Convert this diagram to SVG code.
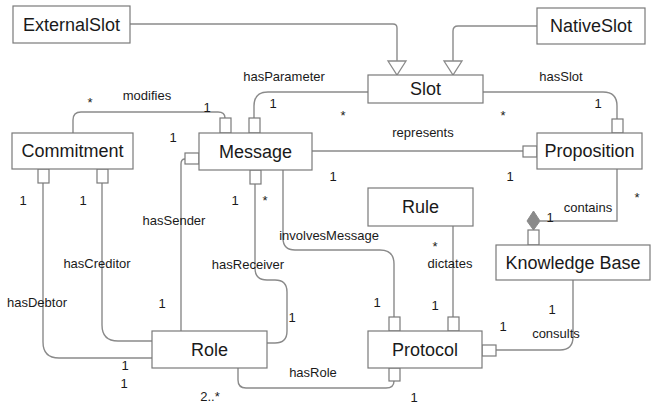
<svg xmlns="http://www.w3.org/2000/svg" width="663" height="405" viewBox="0 0 663 405">
  <style>
    .box { fill: #fff; stroke: #7a7a7a; stroke-width: 1.2; }
    .port { fill: #fff; stroke: #7a7a7a; stroke-width: 1.2; }
    .name { font-family: "Liberation Sans", Arial, sans-serif; font-size: 18px; fill: #1a1a1a; text-anchor: middle; }
    .lbl { font-family: "Liberation Sans", Arial, sans-serif; font-size: 13px; fill: #1a1a1a; text-anchor: middle; }
    .edge { fill: none; stroke: #8a8a8a; stroke-width: 1.4; }
    .gen { fill: #fff; stroke: #8a8a8a; stroke-width: 1.3; }
    .agg { fill: #8a8a8a; stroke: #8a8a8a; stroke-width: 1; }
  </style>

  <!-- connectors -->
  <g id="connectors">
    <!-- generalisations into Slot -->
    <path class="edge" d="M130,24 H393 Q397,24 397,28 V61"/>
    <polygon class="gen" points="388,61 406,61 397,75"/>
    <path class="edge" d="M537,26 H458 Q453,26 453,31 V61"/>
    <polygon class="gen" points="444,61 462,61 453,75"/>

    <!-- hasParameter -->
    <path class="edge" d="M368,92 H268 Q254,92 254,106 V118"/>
    <!-- modifies -->
    <path class="edge" d="M73,133 V120 Q73,112 81,112 H218 Q225,112 225,118"/>
    <!-- hasSlot -->
    <path class="edge" d="M483,92 H603 Q617,92 617,106 V119"/>
    <!-- represents -->
    <path class="edge" d="M312,151 H523"/>
    <!-- contains -->
    <path class="edge" d="M617,169 V221 H540"/>
    <polygon class="agg" points="533.5,211 540,221 533.5,230 527,221"/>
    <!-- consults -->
    <path class="edge" d="M573,280 V337 Q573,350 560,350 H496"/>
    <!-- dictates -->
    <path class="edge" d="M453,226 V317"/>
    <!-- involvesMessage -->
    <path class="edge" d="M283,170 V238 Q283,250 295,250 H380 Q394,250 394,264 V317"/>
    <!-- hasRole -->
    <path class="edge" d="M238,368 V380 Q238,388 246,388 H386 Q394,388 394,381"/>
    <!-- hasSender -->
    <path class="edge" d="M185,159 Q181,159 181,164 V331"/>
    <!-- hasReceiver -->
    <path class="edge" d="M255,184 V268 Q255,280 267,280 H275 Q287,280 287,292 V331 Q287,343 275,343 H267"/>
    <!-- hasCreditor -->
    <path class="edge" d="M102,183 V325 Q102,341 118,341 H152"/>
    <!-- hasDebtor -->
    <path class="edge" d="M43,183 V342 Q43,358 59,358 H152"/>

    <!-- association ports -->
    <rect class="port" x="220" y="118" width="11" height="15"/>
    <rect class="port" x="249" y="118" width="11" height="15"/>
    <rect class="port" x="185" y="153" width="14" height="11"/>
    <rect class="port" x="250" y="170" width="11" height="14"/>
    <rect class="port" x="38" y="169" width="11" height="14"/>
    <rect class="port" x="97" y="169" width="11" height="14"/>
    <rect class="port" x="612" y="119" width="11" height="14"/>
    <rect class="port" x="523" y="146" width="14" height="11"/>
    <rect class="port" x="389" y="317" width="11" height="14"/>
    <rect class="port" x="448" y="317" width="11" height="14"/>
    <rect class="port" x="389" y="368" width="11" height="13"/>
    <rect class="port" x="482" y="345" width="14" height="11"/>
    <rect class="port" x="528" y="230" width="11" height="15"/>

    <!-- role names and multiplicities -->
    <text class="lbl" x="147" y="100">modifies</text>
    <text class="lbl" x="90" y="107">*</text>
    <text class="lbl" x="207" y="112">1</text>
    <text class="lbl" x="284" y="81">hasParameter</text>
    <text class="lbl" x="273" y="108">1</text>
    <text class="lbl" x="343" y="120">*</text>
    <text class="lbl" x="561" y="81">hasSlot</text>
    <text class="lbl" x="598" y="108">1</text>
    <text class="lbl" x="503" y="120">*</text>
    <text class="lbl" x="173" y="142">1</text>
    <text class="lbl" x="423" y="137">represents</text>
    <text class="lbl" x="333" y="181">1</text>
    <text class="lbl" x="510" y="181">1</text>
    <text class="lbl" x="637" y="202">*</text>
    <text class="lbl" x="588" y="212">contains</text>
    <text class="lbl" x="550" y="222">1</text>
    <text class="lbl" x="23" y="205">1</text>
    <text class="lbl" x="83" y="205">1</text>
    <text class="lbl" x="235" y="205">1</text>
    <text class="lbl" x="265" y="205">*</text>
    <text class="lbl" x="174" y="225">hasSender</text>
    <text class="lbl" x="329" y="240">involvesMessage</text>
    <text class="lbl" x="435" y="251">*</text>
    <text class="lbl" x="450" y="268">dictates</text>
    <text class="lbl" x="97" y="268">hasCreditor</text>
    <text class="lbl" x="248" y="269">hasReceiver</text>
    <text class="lbl" x="37" y="307">hasDebtor</text>
    <text class="lbl" x="162" y="308">1</text>
    <text class="lbl" x="377" y="307">1</text>
    <text class="lbl" x="435" y="310">1</text>
    <text class="lbl" x="552" y="314">1</text>
    <text class="lbl" x="292" y="322">1</text>
    <text class="lbl" x="503" y="331">1</text>
    <text class="lbl" x="556" y="338">consults</text>
    <text class="lbl" x="125" y="370">1</text>
    <text class="lbl" x="313" y="377">hasRole</text>
    <text class="lbl" x="124" y="388">1</text>
    <text class="lbl" x="210" y="401">2..*</text>
    <text class="lbl" x="414" y="402">1</text>
  </g>

  <!-- classes -->
  <g id="ExternalSlot"><rect class="box" x="13" y="6" width="117" height="37"/><text class="name" x="71.5" y="31">ExternalSlot</text></g>
  <g id="NativeSlot"><rect class="box" x="537" y="8" width="108" height="36"/><text class="name" x="591" y="32">NativeSlot</text></g>
  <g id="Slot"><rect class="box" x="368" y="75" width="115" height="28"/><text class="name" x="425.5" y="95">Slot</text></g>
  <g id="Commitment"><rect class="box" x="12" y="133" width="121" height="36"/><text class="name" x="72.5" y="157">Commitment</text></g>
  <g id="Message"><rect class="box" x="199" y="133" width="113" height="37"/><text class="name" x="255.5" y="158">Message</text></g>
  <g id="Proposition"><rect class="box" x="537" y="133" width="105" height="36"/><text class="name" x="589.5" y="157">Proposition</text></g>
  <g id="Rule"><rect class="box" x="368" y="188" width="105" height="38"/><text class="name" x="420.5" y="213">Rule</text></g>
  <g id="KnowledgeBase"><rect class="box" x="496" y="245" width="154" height="35"/><text class="name" x="573" y="268.5">Knowledge Base</text></g>
  <g id="Role"><rect class="box" x="152" y="331" width="115" height="37"/><text class="name" x="209.5" y="356">Role</text></g>
  <g id="Protocol"><rect class="box" x="368" y="331" width="114" height="37"/><text class="name" x="425" y="356">Protocol</text></g>
</svg>
